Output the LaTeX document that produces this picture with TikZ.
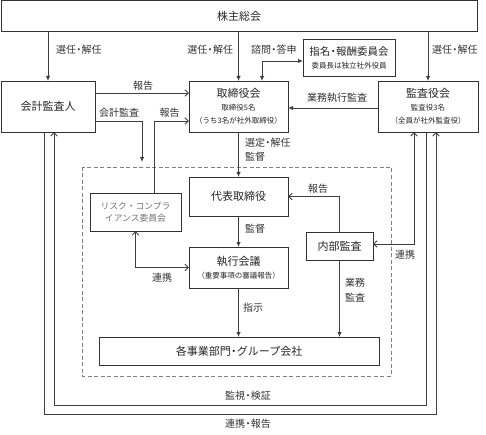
\documentclass[tikz,border=0pt]{standalone}
\usepackage{fontspec}
\setmainfont{Noto Sans CJK JP}
\usetikzlibrary{arrows.meta}
\newcommand\subtxt{\fontsize{7.5}{9.5}\selectfont}
\newcommand\lbltxt{\fontsize{10}{12}\selectfont}
\newcommand\dotj{\kern-.22em・\kern-.22em}
\begin{document}
\begin{tikzpicture}[x=1pt, y=-1pt, line join=miter,
	every node/.style={inner sep=1pt, outer sep=0pt, text=black!85},
	box/.style={draw=black!80, line width=0.9pt, align=center, font=\fontsize{11}{13}\selectfont},
	lbl/.style={font=\lbltxt, text=black!80},
	line/.style={draw=black!75, line width=0.9pt},
	fa/.style={line, -{Latex[length=5pt,width=4.5pt]}},
	oa/.style={line, -{Straight Barb[length=3.5pt,width=6.5pt]}},
	ooa/.style={line, {Straight Barb[length=3.5pt,width=6.5pt]}-{Straight Barb[length=3.5pt,width=6.5pt]}},
	ffa/.style={line, {Latex[length=5pt,width=4.5pt]}-{Latex[length=5pt,width=4.5pt]}}]
	\useasboundingbox (0,0) rectangle (486,435);
	
	% 機関
	\node[box, minimum width=476pt, minimum height=31pt] (soukai) at (239,16) {株主総会};
	\node[box, minimum width=94pt, minimum height=51pt] (kaikei) at (48,106.5) {会計監査人};
	\node[box, minimum width=99pt, minimum height=51pt] (torikai) at (238.5,106.5) {取締役会\\{\subtxt 取締役5名}\\{\subtxt （うち3名が社外取締役）}};
	\node[box, minimum width=100pt, minimum height=51pt] (kansakai) at (428,106.5) {監査役会\\{\subtxt 監査役3名}\\{\subtxt （全員が社外監査役）}};
	\node[box, minimum width=92pt, minimum height=37pt, font=\fontsize{10.5}{13}\selectfont] (shimei) at (349,57.5) {指名\dotj 報酬委員会\\{\subtxt 委員長は独立社外役員}};
	
	% 執行側
	\draw[line, draw=black!50, line width=0.7pt, dash pattern=on 4pt off 2.5pt] (82,167) rectangle (391,376);
	\node[box, minimum width=99pt, minimum height=39pt] (daihyo) at (238.5,196.5) {代表取締役};
	\node[box, minimum width=99pt, minimum height=41pt] (shikko) at (238.5,267.5) {執行会議\\{\subtxt （重要事項の審議報告）}};
	\node[box, minimum width=91pt, minimum height=38pt, font=\fontsize{8.8}{12}\selectfont, text=black!55] (risk) at (135.5,212) {リスク・コンプラ\\イアンス委員会};
	\node[box, minimum width=67pt, minimum height=28pt] (naibu) at (339.5,246) {内部監査};
	\node[box, minimum width=280pt, minimum height=28pt] (jigyo) at (239,351) {各事業部門\dotj グループ会社};
	
	\coordinate (kaikeiE) at (142,162);
	\coordinate (kanshiL) at (54,405);
	\coordinate (renkeiL) at (44,414);
	
	% 矢印
	\draw[fa] (soukai.south -| kaikei.north) -- (kaikei.north);
	\draw[fa] (soukai.south -| torikai.north) -- (torikai.north);
	\draw[fa] (soukai.south -| kansakai.north) -- (kansakai.north);
	\draw[ffa] ([xshift=23.5pt]torikai.north) |- ([yshift=-3.5pt]shimei.west);
	\draw[oa] ([yshift=13.5pt]kaikei.east) -- ([yshift=13.5pt]torikai.west);
	\draw[fa] ([yshift=-14.5pt]kaikei.east) -| (kaikeiE);
	\draw[oa] ([xshift=18.5pt]risk.north) |- ([yshift=-14.5pt]torikai.west);
	\draw[fa] ([yshift=-1.5pt]kansakai.west) -- ([yshift=-1.5pt]torikai.east);
	\draw[fa] (torikai.south) -- (daihyo.north);
	\draw[fa] (daihyo.south) -- (shikko.north);
	\draw[ooa] (risk.south) |- (shikko.west);
	\draw[oa] (naibu.north) |- (daihyo.east);
	\draw[ooa] ([yshift=2pt]naibu.east) -| ([xshift=-14pt]kansakai.south);
	\draw[fa] (naibu.south) -- (naibu.south |- jigyo.north);
	\draw[fa] (shikko.south) -- (shikko.south |- jigyo.north);
	\draw[oa] ([xshift=-2pt]kansakai.south) |- (kanshiL) -- (kanshiL |- kaikei.south);
	\draw[oa] (renkeiL |- kaikei.south) -- (renkeiL) -| ([xshift=8pt]kansakai.south);
	
	% ラベル
	\node[lbl, anchor=west] (senninA) at (55,50) {選任\dotj 解任};
	\node[lbl, anchor=east] (senninB) at (234,50) {選任\dotj 解任};
	\node[lbl, anchor=west] (senninC) at (431,50) {選任\dotj 解任};
	\node[lbl, anchor=west] (shimon) at (250,50) {諮問\dotj 答申};
	\node[lbl] (houkokuA) at (143,86) {報告};
	\node[lbl] (kaikeikansa) at (119,113) {会計監査};
	\node[lbl] (houkokuB) at (169.5,113) {報告};
	\node[lbl] (gyoumushikko) at (337,98) {業務執行監査};
	\node[lbl, anchor=west] (sentei) at (244,143) {選定\dotj 解任};
	\node[lbl, anchor=west] (kantokuA) at (244,157) {監督};
	\node[lbl, anchor=west] (kantokuB) at (244,229) {監督};
	\node[lbl] (renkeiA) at (162,278) {連携};
	\node[lbl] (houkokuC) at (318,189) {報告};
	\node[lbl] (renkeiB) at (405,255) {連携};
	\node[lbl] (gyoumu) at (355,283) {業務};
	\node[lbl] (kansa) at (355,298) {監査};
	\node[lbl] (shiji) at (253,308) {指示};
	\node[lbl] (kanshi) at (248,396) {監視\dotj 検証};
	\node[lbl] (renkeihoukoku) at (248,424) {連携\dotj 報告};
\end{tikzpicture}
\end{document}
